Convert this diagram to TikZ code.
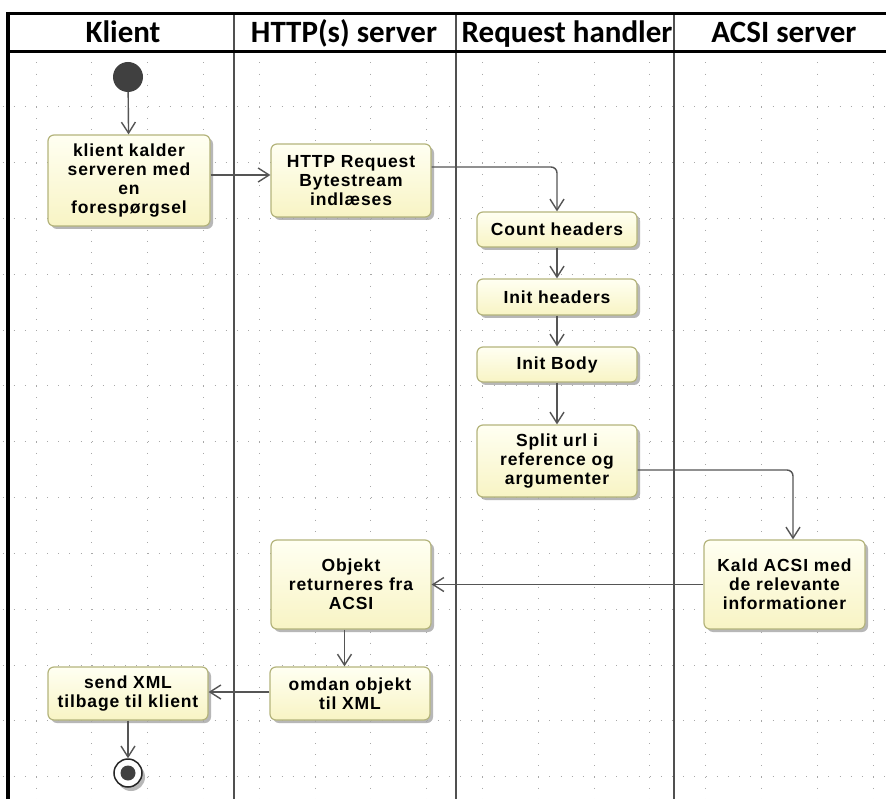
\documentclass[tikz,border=0pt]{standalone}
\usepackage{fontspec}
\usetikzlibrary{arrows.meta,shadows}
\newfontfamily\boxfam{Liberation Sans Bold}[LetterSpace=5]
\newfontfamily\headfam{Carlito}
\definecolor{gridc}{HTML}{A8A8A8}
\definecolor{lanec}{HTML}{505050}
\definecolor{linec}{HTML}{555555}
\definecolor{boxborder}{HTML}{B4B47C}
\definecolor{boxtop}{HTML}{FFFFF2}
\definecolor{boxbot}{HTML}{F8F4C4}
\definecolor{dotc}{HTML}{404040}
\tikzset{
  actbox/.style={rectangle, rounded corners=6pt, draw=boxborder, line width=1.2pt,
    top color=boxtop, bottom color=boxbot, align=center, inner sep=0pt,
    font=\boxfam\fontsize{17.5}{18.8}\selectfont,
    drop shadow={shadow xshift=3pt, shadow yshift=-3pt, fill=black!35, opacity=0.8}},
  arr/.style={draw=linec, line width=1.4pt, rounded corners=6pt,
    -{Straight Barb[length=11pt,width=14pt]}},
  hdr/.style={font=\headfam\bfseries\fontsize{31}{31}\selectfont, inner sep=0pt, anchor=base},
  gridline/.style={draw=gridc, line width=1pt, dash pattern=on 1pt off 10.16pt},
}
\begin{document}
\begin{tikzpicture}[x=1pt,y=-1pt]
\useasboundingbox (0,0) rectangle (886,799);
\fill[white] (0,0) rectangle (886,799);
% grid
\foreach \j in {0,...,12}{
  \draw[gridline] (2.52,{107+55.8*\j}) -- (886,{107+55.8*\j});
}
\foreach \i in {0,...,15}{
  \draw[gridline] ({36+55.8*\i},62.36) -- ({36+55.8*\i},799);
}
% lanes
\draw[lanec, line width=1.5pt] (234,13.5) -- (234,799);
\draw[lanec, line width=1.5pt] (456,13.5) -- (456,799);
\draw[lanec, line width=1.5pt] (674,13.5) -- (674,799);
\draw[black, line width=3pt] (6,13.5) -- (886,13.5);
\draw[black, line width=3pt] (8,52) -- (886,52);
\draw[black, line width=4pt] (8,12) -- (8,799);
% headers
\node[hdr] (h1) at (123,43) {Klient};
\node[hdr] (h2) at (344,43) {HTTP(s) server};
\node[hdr] (h3) at (567,43) {Request handler};
\node[hdr] (h4) at (784,43) {ACSI server};
% initial & final
\node[circle, fill=dotc, minimum size=30pt, inner sep=0pt] (start) at (128,77) {};
\node[circle, draw=black!85, fill=white, line width=1.5pt, minimum size=28pt, inner sep=0pt,
  drop shadow={shadow xshift=3pt, shadow yshift=-4pt, fill=black!35, opacity=0.8}] (end) at (128,773) {};
\node[circle, fill=dotc, minimum size=15pt, inner sep=0pt] (endin) at (128,773) {};
% boxes
\node[actbox, minimum width=162pt, minimum height=91pt] (k) at (129,180.5)
  {klient kalder\\serveren med\\en\\forespørgsel};
\node[actbox, minimum width=160pt, minimum height=73pt] (h) at (351,180.5)
  {HTTP Request\\Bytestream\\indlæses};
\node[actbox, minimum width=160pt, minimum height=35pt] (c) at (557,229.5) {Count headers};
\node[actbox, minimum width=160pt, minimum height=36pt] (ih) at (557,297) {Init headers};
\node[actbox, minimum width=160pt, minimum height=35pt] (ib) at (557,364.5) {Init Body};
\node[actbox, minimum width=160pt, minimum height=72pt] (s) at (557,461)
  {Split url i\\reference og\\argumenter};
\node[actbox, minimum width=161pt, minimum height=89pt] (a) at (784.5,584.5)
  {Kald ACSI med\\de relevante\\informationer};
\node[actbox, minimum width=160pt, minimum height=89pt] (o) at (351,584.5)
  {Objekt\\returneres fra\\ACSI};
\node[actbox, minimum width=160pt, minimum height=53pt] (x) at (350,693.5)
  {omdan objekt\\til XML};
\node[actbox, minimum width=160pt, minimum height=53pt] (sx) at (128,693.5)
  {send XML\\tilbage til klient};
% connectors
\draw[arr] (start) -- (k);
\draw[arr] ([yshift=5.5pt]k.east) -- ([yshift=5.5pt]h.west);
\draw[arr] ([yshift=13.5pt]h.east) -| (c.north);
\draw[arr] (c) -- (ih);
\draw[arr] (ih) -- (ib);
\draw[arr] (ib) -- (s);
\draw[arr] ([yshift=-9pt]s.east) -| ([xshift=8.5pt]a.north);
\draw[arr] (a) -- (o);
\draw[arr] ([xshift=-6.5pt]o.south) -- ([xshift=-5.5pt]x.north);
\draw[arr] ([yshift=1.5pt]x.west) -- ([yshift=1.5pt]sx.east);
\draw[arr] (sx) -- (end);
\end{tikzpicture}
\end{document}
